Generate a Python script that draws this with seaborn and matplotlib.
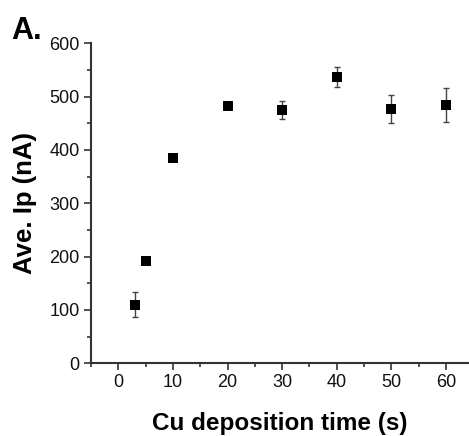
import matplotlib
matplotlib.use("Agg")
import matplotlib.pyplot as plt
import seaborn as sns
import pandas as pd
from matplotlib.ticker import MultipleLocator

time_s = [3, 5, 10, 20, 30, 40, 50, 60]
ave_ip = [110, 192, 384, 482, 475, 537, 477, 484]
err_ip = [24, 3, 3, 5, 17, 19, 26, 32]

sns.set_style("ticks")
plt.rcParams['font.family'] = ['Liberation Sans', 'DejaVu Sans']
plt.rcParams['text.color'] = 'black'
plt.rcParams['axes.labelcolor'] = 'black'
plt.rcParams['xtick.color'] = '#222222'
plt.rcParams['ytick.color'] = '#222222'

df = pd.DataFrame({"t": time_s, "ip": ave_ip, "err": err_ip})

fig = plt.figure(figsize=(4.69, 4.36), dpi=100)
ax = fig.add_axes([0.194, 0.167, 0.806, 0.734])

ax.errorbar(df["t"], df["ip"], yerr=df["err"], fmt="none", ecolor="#444444",
            elinewidth=1.0, capsize=2.5, capthick=1.0, zorder=2)
sns.scatterplot(data=df, x="t", y="ip", marker="s", s=55, color="black",
                edgecolor="black", linewidth=0, ax=ax, zorder=3)

ax.set_xlim(-5, 64.2)
ax.set_ylim(0, 600)
ax.xaxis.set_major_locator(MultipleLocator(10))
ax.xaxis.set_minor_locator(MultipleLocator(5))
ax.yaxis.set_major_locator(MultipleLocator(100))
ax.yaxis.set_minor_locator(MultipleLocator(50))

for s in ["top", "right"]:
    ax.spines[s].set_visible(False)
for s in ["left", "bottom"]:
    ax.spines[s].set_linewidth(1.5)
    ax.spines[s].set_color("#333333")

ax.tick_params(axis="both", which="major", length=5, width=1.2, color="#333333",
               labelsize=13, direction="out", pad=3, labelcolor="#111111")
ax.tick_params(axis="both", which="minor", length=3, width=1.2, color="#333333",
               direction="out")

ax.set_xlabel("Cu deposition time (s)", fontsize=17.5, fontweight="bold", labelpad=15,
              color="black")
ax.set_ylabel("Ave. Ip (nA)", fontsize=18.5, fontweight="bold", labelpad=9,
              color="black")

fig.text(0.025, 0.895, "A.", fontsize=22, fontweight="bold", ha="left", va="bottom",
         color="black")

fig.savefig("out.png", dpi=100)
